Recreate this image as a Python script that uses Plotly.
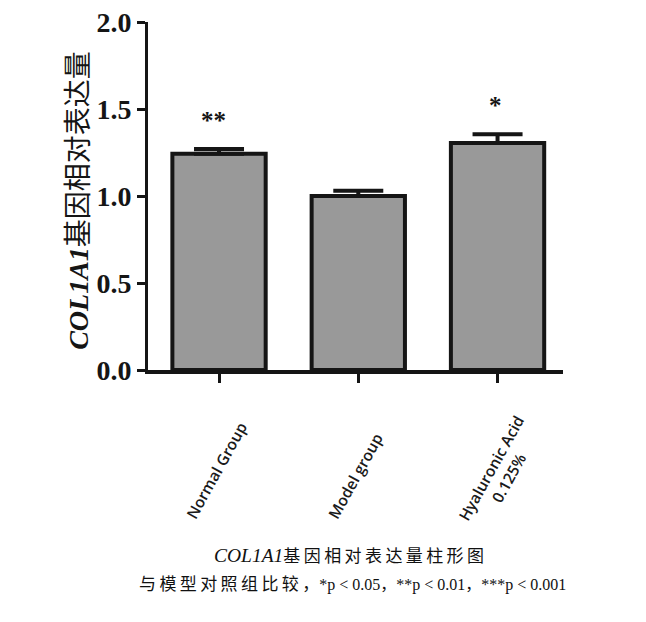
import plotly.graph_objects as go

categories = ["Normal Group", "Model group", "Hyaluronic Acid<br>0.125%"]
values = [1.243, 1.0, 1.305]
errors = [0.027, 0.03, 0.05]
stars = ["**", "", "*"]
yticks = [0.0, 0.5, 1.0, 1.5, 2.0]
ytick_labels = ["0.0", "0.5", "1.0", "1.5", "2.0"]
y_title = "<b><i>COL1A1</i></b>基因相对表达量"

xpos = list(range(len(categories)))
TS = "\u2009"

fig = go.Figure()
fig.add_trace(go.Bar(
    x=xpos, y=values, width=0.67,
    marker=dict(color="#999999", line=dict(color="#151515", width=4)),
    error_y=dict(type="data", array=errors, arrayminus=[0]*len(errors), symmetric=False,
                 color="#151515", thickness=4, width=25),
))

for i, s in enumerate(stars):
    if s:
        fig.add_annotation(x=xpos[i], y=values[i] + errors[i], yshift=13, text="<b>" + s + "</b>",
                           showarrow=False, yanchor="bottom", xshift=-6 if len(s) > 1 else -2,
                           font=dict(family="Liberation Serif", size=25, color="#151515"))

# rotated category labels
for i, c in enumerate(categories):
    multi = "<br>" in c
    fig.add_annotation(x=xpos[i], xref="x", yref="paper", y=-0.4476, text=c,
                       showarrow=False, textangle=-61, xanchor="center", yanchor="bottom",
                       xshift=2 if multi else -3, yshift=-11 if multi else 0,
                       font=dict(family="Open Sans", size=15.5, weight=600, color="#1a1a1a"))

# y-axis title
fig.add_annotation(xref="paper", yref="paper", x=-0.169, y=0.4885, text=y_title,
                   showarrow=False, textangle=-90, xanchor="center", yanchor="middle",
                   font=dict(family="Liberation Serif, Noto Sans CJK SC", size=28, color="#151515"))

cap1 = ("<span style='font-size:19.5px'><i>COL1A1</i></span>"
        + TS.join("基因相对表达量柱形图"))
cap2 = ("<span style='font-size:17px'>" + TS.join("与模型对照组比较，") + "</span>"
        + "*p < 0.05，**p < 0.01，***p < 0.001")
fig.add_annotation(xref="paper", yref="paper", x=0.484, y=-0.534, yanchor="middle",
                   text=cap1, showarrow=False,
                   font=dict(family="Liberation Serif, Noto Sans CJK SC", size=17, color="#111111"))
fig.add_annotation(xref="paper", yref="paper", x=0.492, y=-0.6175, yanchor="middle",
                   text=cap2, showarrow=False,
                   font=dict(family="Liberation Serif, Noto Sans CJK SC", size=16, color="#111111"))

fig.update_layout(
    width=638, height=614,
    margin=dict(l=140, r=83, t=14, b=252),
    paper_bgcolor="white", plot_bgcolor="white",
    showlegend=False,
    xaxis=dict(range=[-0.51, 2.47], tickmode="array", tickvals=xpos, ticktext=["", "", ""],
               showline=True, linecolor="#151515", linewidth=4, automargin=False,
               ticks="outside", ticklen=9, tickwidth=3, tickcolor="#151515",
               showgrid=False, zeroline=False),
    yaxis=dict(range=[0, 2.0], tickmode="array", tickvals=yticks, ticktext=ytick_labels,
               showline=True, linecolor="#151515", linewidth=3, automargin=False,
               ticklabeloverflow="allow",
               ticks="outside", ticklen=8, tickwidth=3, tickcolor="#151515",
               showgrid=False, zeroline=False,
               tickfont=dict(family="Liberation Serif", size=28, weight="bold", color="#151515")),
)

fig.write_html("out.html")
